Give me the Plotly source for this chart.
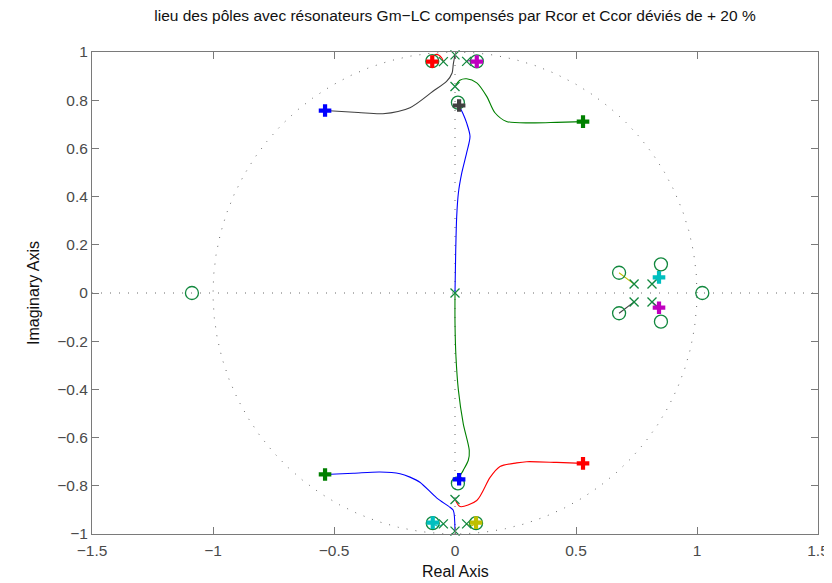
import numpy as np
import plotly.graph_objects as go

# ---------------- data ----------------
zeros_re = [-1.087, 1.022, 0.678, 0.678, 0.851, 0.851, 0.012, 0.012, -0.094, 0.090, -0.092, 0.087]
zeros_im = [0.0, 0.0, 0.084, -0.084, 0.119, -0.119, 0.790, -0.790, 0.962, 0.961, -0.955, -0.955]

poles_re = [0.0, 0.0, 0.0, 0.0, 0.0, -0.048, 0.048, -0.048, 0.048, 0.740, 0.740, 0.814, 0.814]
poles_im = [0.0, 0.988, 0.857, -0.857, -0.988, 0.960, 0.961, -0.958, -0.958, 0.037, -0.037, 0.037, -0.037]

# closed-loop poles ("+"), in plotting order
cl_re = [-0.537, -0.537, 0.529, -0.092, 0.090, 0.087, 0.017, 0.017, 0.529, -0.094, 0.843, 0.843]
cl_im = [0.757, -0.753, -0.707, -0.953, 0.960, -0.953, 0.778, -0.773, 0.711, 0.960, 0.065, -0.061]
cl_colors = ["#0000ff", "#008000", "#ff0000", "#00bfbf", "#bf00bf", "#bfbf00", "#404040",
             "#0000ff", "#008000", "#ff0000", "#00bfbf", "#bf00bf"]

# root-locus branches
br_black_re = [0.0, -0.007, -0.012, -0.034, -0.091, -0.186, -0.298, -0.40, -0.537]
br_black_im = [0.988, 0.950, 0.913, 0.879, 0.837, 0.769, 0.744, 0.749, 0.757]

br_green_up_re = [0.003, 0.020, 0.048, 0.090, 0.131, 0.165, 0.213, 0.323, 0.420, 0.529]
br_green_up_im = [0.862, 0.883, 0.889, 0.872, 0.816, 0.748, 0.712, 0.706, 0.708, 0.711]

br_blue_up_re = [0.015, 0.035, 0.048, 0.062, 0.048, 0.028, 0.014, 0.007, 0.003, 0.0]
br_blue_up_im = [0.780, 0.740, 0.706, 0.650, 0.581, 0.498, 0.415, 0.317, 0.179, 0.0]

br_green_dn_re = [0.0, 0.0, 0.004, 0.014, 0.034, 0.059, 0.055, 0.034, 0.018, 0.013]
br_green_dn_im = [0.0, -0.126, -0.265, -0.403, -0.542, -0.653, -0.694, -0.736, -0.764, -0.780]

br_blue_dn_re = [0.0, -0.007, -0.021, -0.076, -0.145, -0.186, -0.227, -0.310, -0.420, -0.537]
br_blue_dn_im = [-0.988, -0.902, -0.889, -0.850, -0.785, -0.764, -0.750, -0.743, -0.748, -0.753]

br_red_dn_re = [0.003, 0.021, 0.090, 0.145, 0.186, 0.255, 0.296, 0.420, 0.529]
br_red_dn_im = [-0.862, -0.886, -0.861, -0.765, -0.720, -0.705, -0.700, -0.703, -0.707]

br_red_top_re = [-0.048, -0.055, -0.076, -0.096, -0.094]
br_red_top_im = [0.960, 0.976, 0.990, 0.976, 0.962]
br_mag_top_re = [0.048, 0.068, 0.090]
br_mag_top_im = [0.961, 0.966, 0.961]
br_cyan_bot_re = [-0.048, -0.070, -0.092]
br_cyan_bot_im = [-0.958, -0.968, -0.955]
br_yel_bot_re = [0.048, 0.068, 0.087]
br_yel_bot_im = [-0.958, -0.966, -0.955]
br_yel_r_re = [0.740, 0.678]
br_yel_r_im = [0.037, 0.084]
br_blk_r_re = [0.740, 0.678]
br_blk_r_im = [-0.037, -0.084]
br_cyan_r_re = [0.814, 0.843]
br_cyan_r_im = [0.037, 0.065]
br_mag_r_re = [0.814, 0.843]
br_mag_r_im = [-0.037, -0.061]

x_ticks = [-1.5, -1, -0.5, 0, 0.5, 1, 1.5]
y_ticks = [-1, -0.8, -0.6, -0.4, -0.2, 0, 0.2, 0.4, 0.6, 0.8, 1]

TITLE = "lieu des pôles avec résonateurs Gm−LC compensés par Rcor et Ccor déviés de + 20 %"

# ---------------- figure ----------------
FONT = "Liberation Sans, Arial, Helvetica, sans-serif"
PZ_COLOR = "#12883e"
DOT = "#6a6a6a"

# the page body adds an 8px offset; figure sized so the plot area lands at
# x 92..818, y 52..534 in the 832x583 window
OFF = 8
W, H = 832 - OFF, 583 - OFF
ML, MR, MT, MB = 92 - OFF, 832 - 818, 52 - OFF, 583 - 534
PH = H - MT - MB
PW = W - ML - MR

fig = go.Figure()

# dotted unit circle and axes
th = np.linspace(0, 2 * np.pi, 721)
fig.add_trace(go.Scatter(x=np.cos(th), y=np.sin(th), mode="lines",
                         line=dict(color=DOT, width=1, dash="1px,8px"), hoverinfo="skip"))
fig.add_trace(go.Scatter(x=[x_ticks[0], x_ticks[-1]], y=[0, 0], mode="lines",
                         line=dict(color=DOT, width=1, dash="1px,8px"), hoverinfo="skip"))
fig.add_trace(go.Scatter(x=[0, 0], y=[y_ticks[0], y_ticks[-1]], mode="lines",
                         line=dict(color=DOT, width=1, dash="1px,8px"), hoverinfo="skip"))

branches = [
    (br_black_re, br_black_im, "#404040"),
    (br_green_up_re, br_green_up_im, "#008000"),
    (br_blue_up_re, br_blue_up_im, "#0000ff"),
    (br_green_dn_re, br_green_dn_im, "#008000"),
    (br_blue_dn_re, br_blue_dn_im, "#0000ff"),
    (br_red_dn_re, br_red_dn_im, "#ff0000"),
    (br_red_top_re, br_red_top_im, "#ff0000"),
    (br_mag_top_re, br_mag_top_im, "#bf00bf"),
    (br_cyan_bot_re, br_cyan_bot_im, "#00bfbf"),
    (br_yel_bot_re, br_yel_bot_im, "#bfbf00"),
    (br_yel_r_re, br_yel_r_im, "#bfbf00"),
    (br_blk_r_re, br_blk_r_im, "#404040"),
    (br_cyan_r_re, br_cyan_r_im, "#00bfbf"),
    (br_mag_r_re, br_mag_r_im, "#bf00bf"),
]
for bx, by, c in branches:
    fig.add_trace(go.Scatter(x=bx, y=by, mode="lines",
                             line=dict(color=c, width=1.1, shape="spline", smoothing=0.8),
                             hoverinfo="skip"))

# zeros
fig.add_trace(go.Scatter(x=zeros_re, y=zeros_im, mode="markers", cliponaxis=False,
                         marker=dict(symbol="circle-open", size=13, color=PZ_COLOR,
                                     line=dict(width=1.3, color=PZ_COLOR))))
# poles
fig.add_trace(go.Scatter(x=poles_re, y=poles_im, mode="markers", cliponaxis=False,
                         marker=dict(symbol="x-thin-open", size=9, color=PZ_COLOR,
                                     line=dict(width=1.3, color=PZ_COLOR))))
# closed-loop poles
fig.add_trace(go.Scatter(x=cl_re, y=cl_im, mode="markers", cliponaxis=False,
                         marker=dict(symbol="cross", size=10.5, color=cl_colors, line=dict(width=0))))

axis_common = dict(showgrid=False, zeroline=False, showline=True, linecolor="#7a7a7a", linewidth=1,
                   mirror="ticks", ticks="inside", ticklen=7, tickcolor="#7a7a7a", tickwidth=1,
                   tickfont=dict(family=FONT, size=15.5, color="#4a4a4a"))

fig.update_layout(
    width=W, height=H,
    margin=dict(l=ML, r=MR, t=MT, b=MB, autoexpand=False),
    paper_bgcolor="white", plot_bgcolor="white",
    showlegend=False,
    font=dict(family=FONT),
    title=dict(text=TITLE, x=0.5, xref="paper", xanchor="center", y=1 - (15.5 - OFF) / H, yref="container",
               yanchor="middle", font=dict(family=FONT, size=15.5, color="#111111")),
    xaxis=dict(range=[x_ticks[0], x_ticks[-1]], tickvals=x_ticks, ticklabelstandoff=2, **axis_common),
    yaxis=dict(range=[y_ticks[0], y_ticks[-1]], tickvals=y_ticks, **axis_common),
    annotations=[
        dict(text="Real Axis", x=0.5, xref="paper", y=-(571 - 534) / PH, yref="paper",
             showarrow=False, xanchor="center", yanchor="middle",
             font=dict(family=FONT, size=16, color="#111111")),
        dict(text="Imaginary Axis", x=-(92 - 33) / PW, xref="paper", y=0.5, yref="paper",
             showarrow=False, xanchor="center", yanchor="middle", textangle=-90,
             font=dict(family=FONT, size=16, color="#111111")),
    ],
)

fig.write_html("out.html")
